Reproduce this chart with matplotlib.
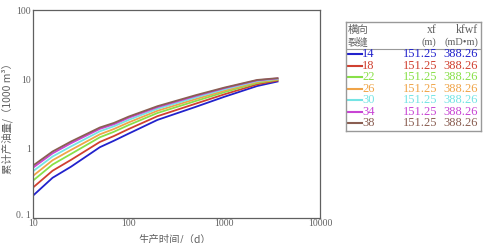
import matplotlib
matplotlib.use("Agg")
import matplotlib.pyplot as plt
import matplotlib.transforms as mtransforms

plt.rcParams["font.family"] = ["Liberation Serif", "Noto Sans CJK SC", "DejaVu Sans"]

# production time (d)
days = [10, 16, 25, 50, 70, 100, 200, 500, 1000, 2200, 3600]

# cumulative oil (1000 m3), one list per number of transverse fractures
oil_14 = [0.21, 0.38, 0.55, 1.05, 1.30, 1.65, 2.60, 4.00, 5.60, 8.00, 9.30]
oil_18 = [0.275, 0.48, 0.69, 1.25, 1.52, 1.92, 2.94, 4.45, 6.08, 8.45, 9.60]
oil_22 = [0.346, 0.59, 0.84, 1.46, 1.75, 2.19, 3.27, 4.86, 6.53, 8.85, 9.85]
oil_26 = [0.405, 0.68, 0.96, 1.61, 1.92, 2.39, 3.52, 5.18, 6.85, 9.14, 10.0]
oil_30 = [0.472, 0.77, 1.08, 1.78, 2.10, 2.60, 3.76, 5.48, 7.18, 9.42, 10.15]
oil_34 = [0.532, 0.855, 1.20, 1.93, 2.25, 2.79, 3.97, 5.74, 7.45, 9.66, 10.3]
oil_38 = [0.57, 0.91, 1.27, 2.02, 2.35, 2.90, 4.10, 5.90, 7.60, 9.80, 10.4]

fractures = ["14", "18", "22", "26", "30", "34", "38"]
xf = ["151.25"] * 7
kfwf = ["388.26"] * 7
series = [oil_14, oil_18, oil_22, oil_26, oil_30, oil_34, oil_38]
colors = ["#2222cc", "#d04030", "#88e048", "#f0a448", "#74e4e4", "#c844d4", "#8a5e52"]

W, H = 492, 243
fig = plt.figure(figsize=(W / 100, H / 100), dpi=100)
grey = "#606060"
cjk = ["Noto Sans CJK SC", "DejaVu Sans"]

ax = fig.add_axes([33 / W, 1 - 218 / H, 287 / W, 208 / H])
for vals, c in zip(series, colors):
    ax.plot(days, vals, color=c, lw=1.3)
ax.set_xscale("log")
ax.set_yscale("log")
ax.set_xlim(10, 10000)
ax.set_ylim(0.1, 100)
ax.set_xticks([10, 100, 1000, 10000])
ax.set_xticklabels(["10", "100", "1000", "10000"])
ax.set_yticks([0.1, 1, 10, 100])
ax.set_yticklabels(["0. 1", "1", "10", "100"])
ax.minorticks_off()
ax.tick_params(length=0, labelsize=7, colors=grey)
ax.tick_params(axis="x", pad=1)
ax.tick_params(axis="y", pad=1.5)
# lift the bottom y label a little so it clears the first x label
lift = mtransforms.ScaledTranslation(0, 2.5 / 72, fig.dpi_scale_trans)
low = ax.get_yticklabels()[0]
low.set_transform(low.get_transform() + lift)
for s in ax.spines.values():
    s.set_color(grey)
    s.set_linewidth(0.9)
ax.set_xlabel("生产时间/（d）", fontsize=7.5, color=grey, family=cjk)
ax.set_ylabel("累计产油量/（1000 m³）", fontsize=7.5, color=grey, family=cjk)
ax.xaxis.set_label_coords(0.495, -0.072)
ax.yaxis.set_label_coords(-0.07, 0.49)

# legend drawn as a small table in pixel coordinates
x0, x1, y0, y1 = 345.5, 480.5, 22.5, 131
lg = fig.add_axes([x0 / W, 1 - y1 / H, (x1 - x0) / W, (y1 - y0) / H])
lg.set_xlim(x0, x1)
lg.set_ylim(y1, y0)
lg.set_xticks([])
lg.set_yticks([])
for s in lg.spines.values():
    s.set_color("#999999")
    s.set_linewidth(1.0)

lg.text(348, 30, "横向", fontsize=7.5, color=grey, va="center", family=cjk)
lg.text(348, 42.5, "裂缝", fontsize=7.5, color=grey, va="center", family=cjk)
lg.text(437, 30, "xf", fontsize=8.5, color=grey, va="center", ha="right")
lg.text(436, 42.5, "(m)", fontsize=7.5, color=grey, va="center", ha="right")
lg.text(478, 30, "kfwf", fontsize=8.5, color=grey, va="center", ha="right")
lg.text(478, 42.5, "(mD•m)", fontsize=7.5, color=grey, va="center", ha="right")
lg.plot([x0, x1], [49.5, 49.5], color="#999999", lw=0.8)

row_y = 54.5
for name, a, b, c in zip(fractures, xf, kfwf, colors):
    lg.plot([347.5, 361.5], [row_y, row_y], color=c, lw=1.5)
    lg.text(362, row_y, name, fontsize=9, color=c, va="center")
    lg.text(437, row_y, a, fontsize=9, color=c, va="center", ha="right")
    lg.text(478, row_y, b, fontsize=9, color=c, va="center", ha="right")
    row_y += 11.4

fig.savefig("out.png", dpi=100, facecolor="white")
